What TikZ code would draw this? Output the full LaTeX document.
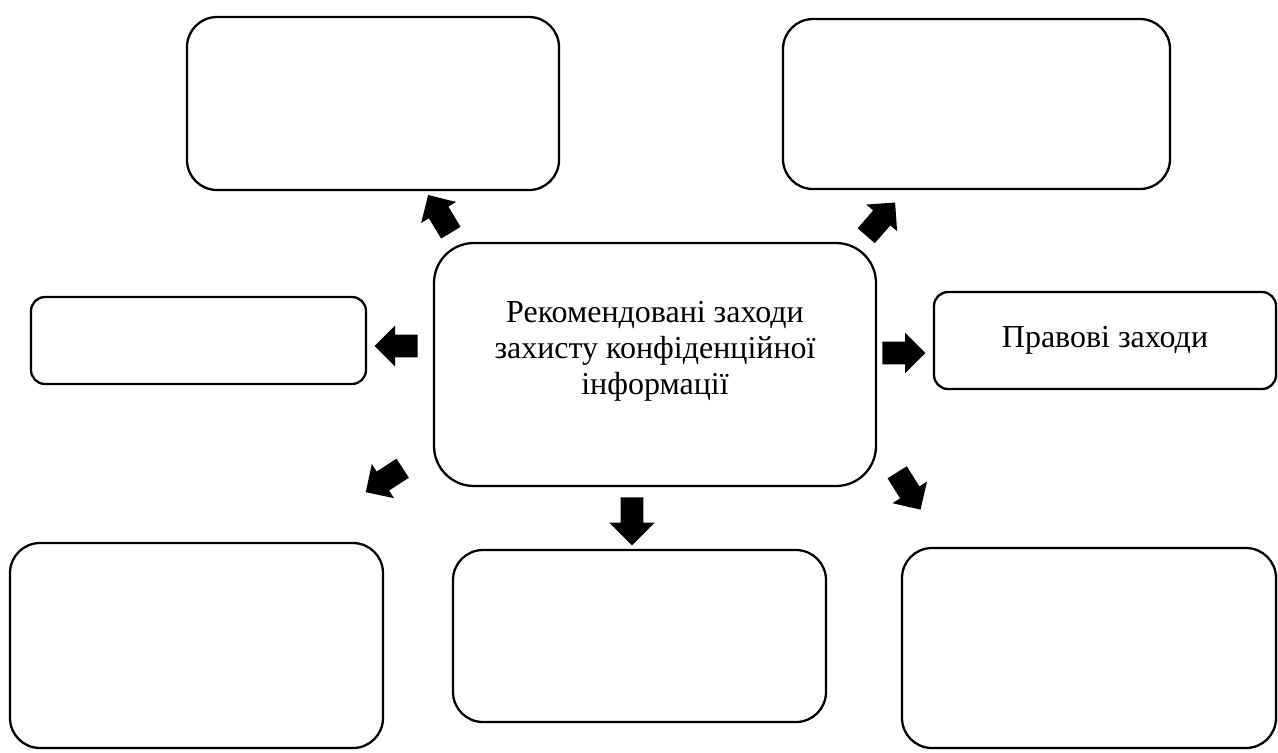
\documentclass[tikz,border=0pt]{standalone}
\usepackage{fontspec}
\setmainfont{Liberation Serif}
\usetikzlibrary{shapes.arrows}
\tikzset{
  box/.style={draw=black, line width=1.3pt, fill=white, inner sep=0pt, align=center,
    font=\fontsize{18.2}{20.4}\selectfont},
  txt/.style={inner sep=0pt, align=center, font=\fontsize{18.2}{20.4}\selectfont},
  blk/.style={single arrow, fill=black, draw=none, inner xsep=0pt, inner ysep={11*0.02cm},
    single arrow head extend={9*0.02cm}, anchor=tail,
    minimum height={44*0.02cm}},
}
\begin{document}
\begin{tikzpicture}[x=0.02cm,y=-0.02cm]
\useasboundingbox (0,0) rectangle (1278,752);
% boxes
\node[box, rounded corners={30*0.02cm}, minimum width={372*0.02cm}, minimum height={173*0.02cm}] (tl) at (373,103.5) {};
\node[box, rounded corners={30*0.02cm}, minimum width={387*0.02cm}, minimum height={170*0.02cm}] (tr) at (976.5,104) {};
\node[box, rounded corners={40*0.02cm}, minimum width={442*0.02cm}, minimum height={243*0.02cm}] (c) at (655,364.5) {};
\node[txt] (ctext) at (655,351) {Рекомендовані заходи\\захисту конфіденційної\\інформації};
\node[box, rounded corners={14*0.02cm}, minimum width={335*0.02cm}, minimum height={87*0.02cm}] (ml) at (198.5,340.5) {};
\node[box, rounded corners={14*0.02cm}, minimum width={342*0.02cm}, minimum height={97*0.02cm}] (mr) at (1105,340.5) {Правові заходи};
\node[box, rounded corners={30*0.02cm}, minimum width={373*0.02cm}, minimum height={205*0.02cm}] (bl) at (196.5,645.5) {};
\node[box, rounded corners={30*0.02cm}, minimum width={373*0.02cm}, minimum height={172*0.02cm}] (bc) at (639.5,636) {};
\node[box, rounded corners={30*0.02cm}, minimum width={374*0.02cm}, minimum height={200*0.02cm}] (br) at (1089,648) {};
% block arrows
\node[blk, rotate=121] (a1) at (451,233) {};
\node[blk, rotate=49] (a2) at (866,236) {};
\node[blk, rotate=180, minimum height={43*0.02cm}] (a3) at (418,346) {};
\node[blk, rotate=0, minimum height={43*0.02cm}] (a4) at (882,353) {};
\node[blk, rotate=213] (a5) at (403,468) {};
\node[blk, rotate=-90, single arrow head extend={11.5*0.02cm}, minimum height={48*0.02cm}] (a6) at (632,497) {};
\node[blk, rotate=-58] (a7) at (897,472) {};
\end{tikzpicture}
\end{document}
